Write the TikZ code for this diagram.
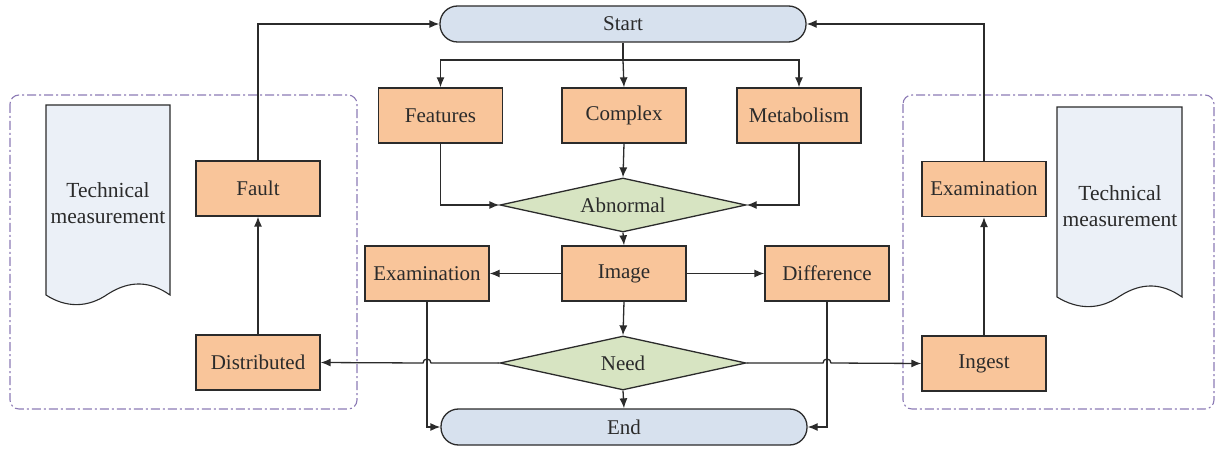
\documentclass[tikz,border=0pt]{standalone}
\usepackage{fontspec}
\setmainfont{Liberation Serif}
\usetikzlibrary{arrows.meta,shapes.geometric,calc}
\definecolor{boxor}{HTML}{F9C59A}
\definecolor{dgreen}{HTML}{D7E4C2}
\definecolor{tblue}{HTML}{D7E1EE}
\definecolor{docblue}{HTML}{EBF0F7}
\definecolor{purp}{HTML}{8C7BB5}
\definecolor{ink}{HTML}{2B2B2B}
\begin{document}
\begin{tikzpicture}[x=1pt,y=-1pt,
  every node/.style={font=\fontsize{21}{24}\selectfont, text=ink},
  pbox/.style={draw=ink, line width=1.3pt, fill=boxor, minimum width=124pt, minimum height=55pt, inner sep=0pt},
  term/.style={draw=ink, line width=1.3pt, fill=tblue, minimum width=366pt, minimum height=36pt, rounded corners=17.5pt, inner sep=0pt},
  dec/.style={draw=ink, line width=1.3pt, fill=dgreen, diamond, aspect=4.55, minimum width=246pt, minimum height=54pt, inner sep=0pt},
  arr/.style={draw=ink, line width=1.3pt, -{Latex[length=10pt,width=8pt]}},
  ln/.style={draw=ink, line width=1.3pt},
  grp/.style={draw=purp, line width=1.1pt, dash pattern=on 9pt off 3pt on 2pt off 3pt, rounded corners=9pt},
  doctext/.style={align=center, font=\fontsize{21.5}{26}\selectfont}
]
\useasboundingbox (0,0) rectangle (1216,449);

% group frames
\draw[grp] (10,95) rectangle (357,409);
\draw[grp] (903,95) rectangle (1214,409);

% documents
\draw[ink, line width=1.1pt, fill=docblue] (46,105) -- (170,105) -- (170,295)
  .. controls (150,281) and (130,280) .. (108,294)
  .. controls (88,308) and (66,308) .. (46,295) -- cycle;
\node[doctext] (docL) at (108,203) {Technical\\measurement};
\draw[ink, line width=1.1pt, fill=docblue] (1057,107) -- (1182,107) -- (1182,297)
  .. controls (1162,283) and (1142,282) .. (1120,296)
  .. controls (1100,310) and (1078,310) .. (1057,297) -- cycle;
\node[doctext] (docR) at (1120,206) {Technical\\measurement};

% main nodes
\node[term] (start) at (623,24) {Start};
\node[pbox] (feat) at (440.5,115.5) {Features};
\node[pbox] (comp) at (624,115.5) {Complex};
\node[pbox] (meta) at (799,115.5) {Metabolism};
\node[dec] (abn) at (623,205) {Abnormal};
\node[pbox] (img) at (624,273.5) {Image};
\node[pbox] (exam) at (427,273.5) {Examination};
\node[pbox] (diff) at (827,273.5) {Difference};
\node[dec] (need) at (623,363) {Need};
\node[term] (end) at (624,427) {End};
\node[pbox] (fault) at (258,188.5) {Fault};
\node[pbox] (dist) at (258,362.5) {Distributed};
\node[pbox] (examR) at (984,189) {Examination};
\node[pbox] (ing) at (984,363.5) {Ingest};

% connectors
\coordinate (split) at (623,60);
\draw[ln] (start.south) -- (split);
\draw[arr] (split) -| (feat.north);
\draw[arr] (split) -| (meta.north);
\draw[arr] (split) -- (comp.north);
\draw[arr] (comp.south) -- (abn.north);
\draw[arr] (feat.south) |- (abn.west);
\draw[arr] (meta.south) |- (abn.east);
\draw[arr] (abn.south) -- (img.north);
\draw[arr] (img.west) -- (exam.east);
\draw[arr] (img.east) -- (diff.west);
\draw[arr] (img.south) -- (need.north);
\draw[arr] (need.south) -- (end.north);
\draw[arr] (exam.south) |- (end.west);
\draw[arr] (diff.south) |- (end.east);
\draw[arr] (need.west) -- ([xshift=4pt]exam.south |- need.west)
  arc[start angle=0,end angle=180,radius=4pt] -- (dist.east);
\draw[arr] (need.east) -- ([xshift=-4pt]diff.south |- need.east)
  arc[start angle=180,end angle=0,radius=4pt] -- (ing.west);
\draw[arr] (dist.north) -- (fault.south);
\draw[arr] (ing.north) -- (examR.south);
\draw[arr] (fault.north) |- (start.west);
\draw[arr] (examR.north) |- (start.east);
\end{tikzpicture}
\end{document}
